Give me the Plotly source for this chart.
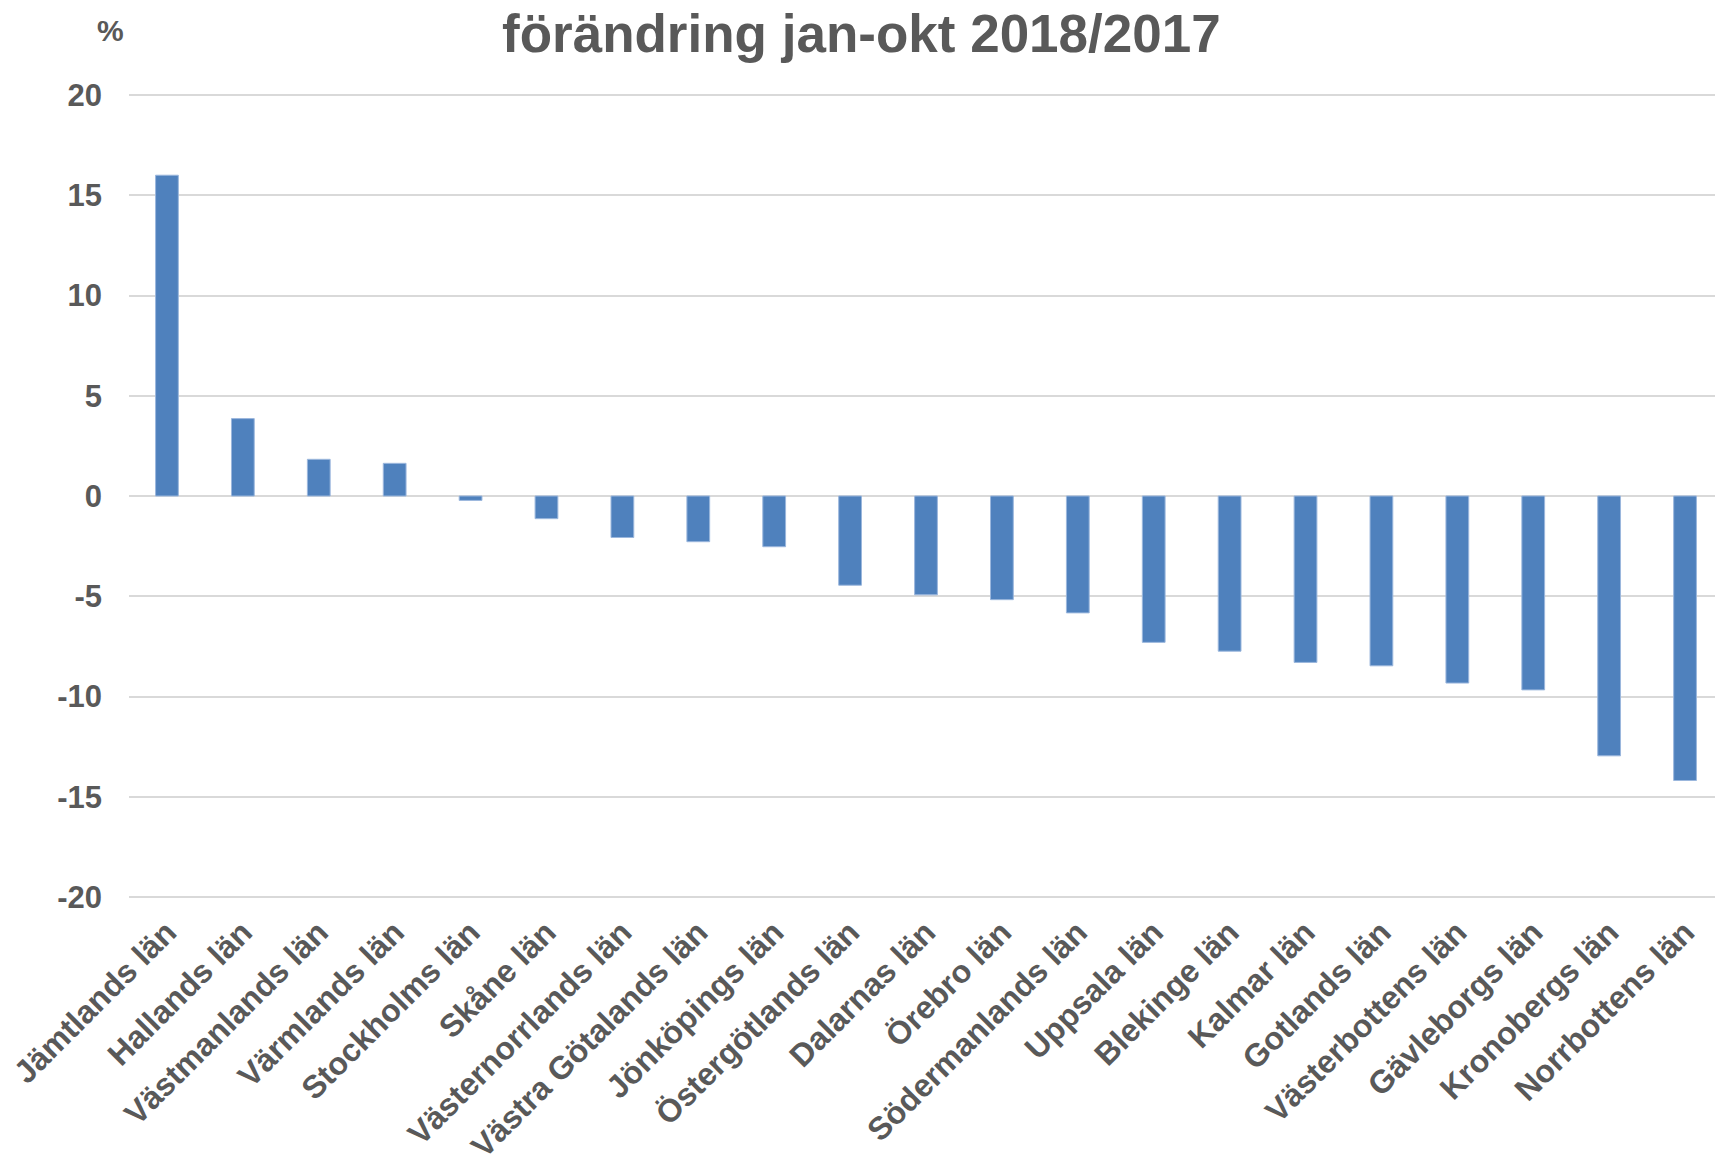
import plotly.graph_objects as go

categories = ["Jämtlands län", "Hallands län", "Västmanlands län", "Värmlands län",
              "Stockholms län", "Skåne län", "Västernorrlands län", "Västra Götalands län",
              "Jönköpings län", "Östergötlands län", "Dalarnas län", "Örebro län",
              "Södermanlands län", "Uppsala län", "Blekinge län", "Kalmar län",
              "Gotlands län", "Västerbottens län", "Gävleborgs län", "Kronobergs län",
              "Norrbottens län"]
values = [16.0, 3.86, 1.83, 1.63, -0.22, -1.13, -2.07, -2.28, -2.53, -4.45, -4.93,
          -5.17, -5.83, -7.30, -7.74, -8.30, -8.47, -9.33, -9.67, -12.96, -14.19]
y_ticks = [-20, -15, -10, -5, 0, 5, 10, 15, 20]

FONT = "Liberation Sans, Arial, sans-serif"
GRAY = "#595959"

# page body has an 8px margin; figure placed so plot area matches reference
W, H = 1715, 1148
L = 121
YMAX = 20.2
PX_PER_UNIT = 20.05
PH = round(2 * YMAX * PX_PER_UNIT)
T = round(87 - (YMAX - 20) * PX_PER_UNIT)
B = H - T - PH
PW = W - L

fig = go.Figure(go.Bar(
    x=categories, y=values,
    marker=dict(color="#4f81bd", line=dict(color="#9bb7dd", width=1)),
))

fig.update_layout(
    width=W, height=H,
    paper_bgcolor="white", plot_bgcolor="white",
    margin=dict(l=L, r=0, t=T, b=B, autoexpand=False),
    bargap=0.70,
    showlegend=False,
    font=dict(family=FONT, color=GRAY),
    xaxis=dict(
        range=[-0.5, len(categories) - 0.5],
        tickangle=-45, tickfont=dict(family=FONT, size=32, color=GRAY, weight="bold"),
        showgrid=False, showline=False, ticks="", ticklabelstandoff=5,
        automargin=False,
    ),
    yaxis=dict(
        range=[-YMAX, YMAX], tickvals=y_ticks, ticktext=[str(v) for v in y_ticks],
        tickfont=dict(family=FONT, size=31, color=GRAY, weight="bold"),
        showgrid=True, gridcolor="#d9d9d9", gridwidth=2,
        zeroline=True, zerolinecolor="#d9d9d9", zerolinewidth=2,
        showline=False, ticks="", ticklabelstandoff=26, automargin=False,
    ),
    annotations=[
        dict(text="förändring jan-okt 2018/2017", xref="paper", yref="paper",
             x=(853 - L) / PW, y=1 + (T - 25) / PH, xanchor="center", yanchor="middle",
             showarrow=False, font=dict(family=FONT, size=53, color=GRAY, weight="bold")),
        dict(text="%", xref="paper", yref="paper",
             x=(102 - L) / PW, y=1 + (T - 22) / PH, xanchor="center", yanchor="middle",
             showarrow=False, font=dict(family=FONT, size=30, color=GRAY, weight="bold")),
    ],
)

fig.write_html("out.html")
